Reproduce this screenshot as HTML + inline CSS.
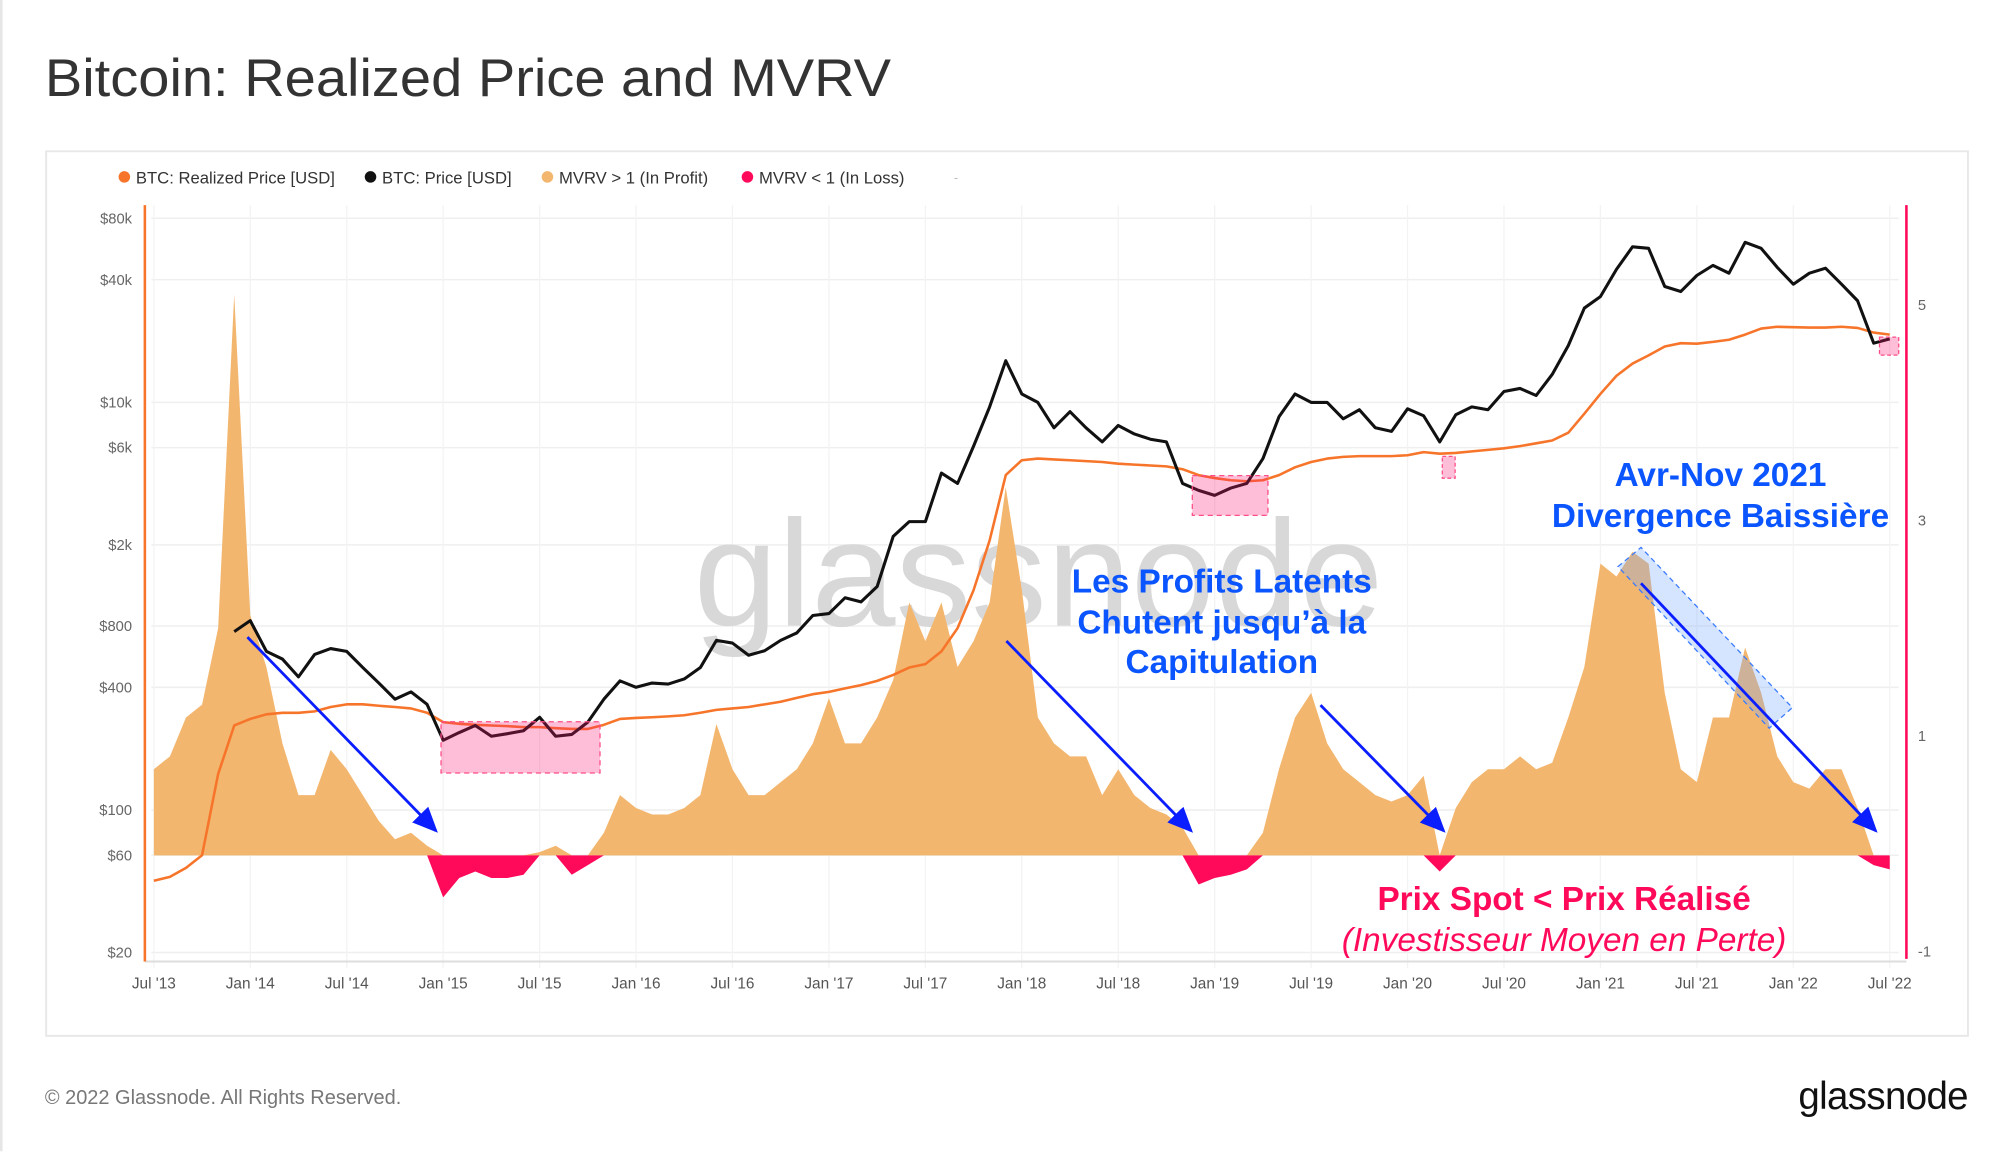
<!DOCTYPE html>
<html><head><meta charset="utf-8">
<style>
html,body{margin:0;padding:0;background:#fff;}
svg{display:block;font-family:"Liberation Sans",sans-serif;}
</style></head>
<body>
<svg id="chart" width="2000" height="1152" viewBox="0 0 1560 898.6" preserveAspectRatio="none" xmlns="http://www.w3.org/2000/svg">
<rect x="0" y="0" width="1560" height="898.6" fill="#fff"/>
<line x1="1" y1="0" x2="1" y2="898" stroke="#e6e6e6" stroke-width="2"/>
<text x="35" y="75" font-size="41" fill="#333" textLength="660" lengthAdjust="spacingAndGlyphs">Bitcoin: Realized Price and MVRV</text>
<rect x="36" y="118" width="1499" height="690" fill="none" stroke="#e8e8e8" stroke-width="1.5"/>
<g id="legend" font-size="13" fill="#333">
 <g><circle cx="97" cy="138" r="4.5" fill="#f7752a"/><text x="106" y="143">BTC: Realized Price [USD]</text></g>
 <g><circle cx="289" cy="138" r="4.5" fill="#111"/><text x="298" y="143">BTC: Price [USD]</text></g>
 <g><circle cx="427" cy="138" r="4.5" fill="#f3b66e"/><text x="436" y="143">MVRV &gt; 1 (In Profit)</text></g>
 <g><circle cx="583" cy="138" r="4.5" fill="#ff0a5a"/><text x="592" y="143">MVRV &lt; 1 (In Loss)</text></g>
 <text x="744" y="142" fill="#bbb" font-size="10">-</text>
</g>
<g id="grid"></g>
<text x="810" y="488" font-size="118" fill="#d8d8d8" text-anchor="middle">glassnode</text>
<g id="marks"></g>
<g id="axes"></g>
<g id="annot">
 <rect x="344" y="563" width="124" height="40" fill="rgba(255,20,110,0.28)" stroke="#ff4d88" stroke-dasharray="4,3"/>
 <rect x="930" y="371" width="59" height="31" fill="rgba(255,20,110,0.28)" stroke="#ff4d88" stroke-dasharray="4,3"/>
 <rect x="1125" y="356" width="10" height="17" fill="rgba(255,20,110,0.28)" stroke="#ff4d88" stroke-dasharray="3,2"/>
 <rect x="1466" y="263" width="15" height="14" fill="rgba(255,20,110,0.28)" stroke="#ff4d88" stroke-dasharray="3,2"/>
 <polygon points="1262,442 1280,427 1398,552 1380,568" fill="rgba(120,170,255,0.3)" stroke="#3a7bff" stroke-dasharray="4,3"/>
 <defs><marker id="ah" markerWidth="10" markerHeight="8" refX="8" refY="4" orient="auto" markerUnits="strokeWidth"><path d="M0,0 L9,4 L0,8 z" fill="#0a1eff"/></marker></defs>
 <line x1="193" y1="497" x2="340" y2="648" stroke="#0a1eff" stroke-width="2.2" marker-end="url(#ah)"/>
 <line x1="785" y1="500" x2="929" y2="648" stroke="#0a1eff" stroke-width="2.2" marker-end="url(#ah)"/>
 <line x1="1030" y1="550" x2="1126" y2="648" stroke="#0a1eff" stroke-width="2.2" marker-end="url(#ah)"/>
 <line x1="1280" y1="455" x2="1463" y2="648" stroke="#0a1eff" stroke-width="2.2" marker-end="url(#ah)"/>
 <g font-weight="bold" font-size="26" fill="#0a55ff" text-anchor="middle">
  <text x="953" y="462">Les Profits Latents</text>
  <text x="953" y="494">Chutent jusqu’à la</text>
  <text x="953" y="525">Capitulation</text>
 </g>
 <g font-weight="bold" font-size="26" fill="#0a55ff" text-anchor="middle">
  <text x="1342" y="379">Avr-Nov 2021</text>
  <text x="1342" y="411">Divergence Baissière</text>
 </g>
 <text x="1220" y="710" font-weight="bold" font-size="26" fill="#ff0a5a" text-anchor="middle">Prix Spot &lt; Prix Réalisé</text>
 <text x="1220" y="742" font-style="italic" font-size="26" fill="#ff0a5a" text-anchor="middle">(Investisseur Moyen en Perte)</text>
</g>
<text x="35" y="861" font-size="16" fill="#777" textLength="278" lengthAdjust="spacingAndGlyphs">© 2022 Glassnode. All Rights Reserved.</text>
<text x="1535" y="865" font-size="30" fill="#111" text-anchor="end" letter-spacing="-0.5">glassnode</text>
</svg>
<script>
const xTickLabels = ["Jul '13","Jan '14","Jul '14","Jan '15","Jul '15","Jan '16","Jul '16","Jan '17","Jul '17","Jan '18","Jul '18","Jan '19","Jul '19","Jan '20","Jul '20","Jan '21","Jul '21","Jan '22","Jul '22"];
const leftTickValues = [80000,40000,10000,6000,2000,800,400,100,60,20];
const leftTickLabels = ["$80k","$40k","$10k","$6k","$2k","$800","$400","$100","$60","$20"];
const rightTickValues = [5,3,1,-1];
const rightTickLabels = ["5","3","1","-1"];
const mvrvBaseline = -0.11;
// monthly, Jul 2013 .. Jul 2022
const mvrvValues = [0.69,0.81,1.17,1.29,2.0,5.1,
 2.12,1.64,0.93,0.45,0.45,0.87,0.69,0.45,0.21,0.04,0.1,-0.02,
 -0.5,-0.32,-0.26,-0.32,-0.32,-0.29,-0.08,-0.02,-0.29,-0.2,0.1,0.45,
 0.33,0.27,0.27,0.33,0.45,1.11,0.69,0.45,0.45,0.57,0.69,0.93,
 1.35,0.93,0.93,1.17,1.52,2.24,1.88,2.24,1.64,1.88,2.24,3.31,
 2.36,1.17,0.93,0.81,0.81,0.45,0.69,0.45,0.33,0.27,0.15,-0.38,
 -0.32,-0.29,-0.24,0.1,0.69,1.17,1.4,0.93,0.69,0.57,0.45,0.39,
 0.45,0.63,-0.26,0.33,0.57,0.69,0.69,0.81,0.69,0.75,1.17,1.64,
 2.6,2.48,2.71,2.6,1.4,0.69,0.57,1.17,1.17,1.82,1.4,0.81,
 0.57,0.51,0.69,0.69,0.33,-0.2,-0.24];
const priceValues = [null,null,null,null,null,750,
 850,600,550,450,580,620,600,500,420,350,380,330,
 220,240,260,230,237,245,285,230,235,270,350,430,
 400,420,415,440,500,680,660,575,605,680,740,900,
 920,1100,1050,1250,2200,2600,2600,4500,4000,6100,9500,16000,
 11000,10000,7500,9000,7500,6400,7700,7000,6600,6400,4000,3700,
 3500,3800,4000,5300,8500,11000,10000,10000,8300,9200,7500,7200,
 9300,8600,6400,8700,9500,9200,11300,11700,10800,13700,19000,29000,
 33000,45000,58000,57000,37000,35000,42000,47000,43000,61000,57000,46000,
 38000,43000,45500,38000,31500,19500,20500];
const realizedValues = [45,47,52,60,150,260,
 280,295,300,300,305,320,330,330,325,320,315,300,
 270,265,262,260,258,255,255,252,250,250,262,280,
 283,285,288,292,300,310,315,320,330,340,355,370,
 380,395,410,430,460,500,520,600,780,1200,2100,4400,
 5200,5300,5250,5200,5150,5100,5000,4950,4900,4850,4700,4400,
 4250,4150,4100,4150,4400,4800,5100,5300,5400,5450,5450,5450,
 5500,5700,5600,5650,5750,5850,5950,6100,6300,6500,7100,8800,
 11000,13500,15500,17000,18800,19500,19400,19800,20300,21500,23000,23500,
 23400,23300,23300,23500,23200,22000,21500];

const NS="http://www.w3.org/2000/svg";
const X0=120, X1=1474, N=mvrvValues.length;
function xOf(i){return X0+i*(X1-X0)/(N-1);}
function xTick(k){return X0+k*(X1-X0)/(xTickLabels.length-1);}
function yPrice(v){return 743-(Math.log10(v)-Math.log10(20))*159;}
function yM(v){return 574-(v-1)*84;}
function mk(tag,attrs,parent){const e=document.createElementNS(NS,tag);for(const k in attrs)e.setAttribute(k,attrs[k]);parent.appendChild(e);return e;}
const grid=document.getElementById('grid'), marks=document.getElementById('marks'), axes=document.getElementById('axes');

leftTickValues.forEach((v,i)=>{
 const y=yPrice(v);
 const l=mk('line',{x1:118,x2:1481,y1:y,y2:y,stroke:'#efefef','stroke-width':1.2},grid);
 
 
 const t=mk('text',{x:103,y:y+4,'font-size':11.5,fill:'#666','text-anchor':'end'},axes);
 t.textContent=leftTickLabels[i];
 
 
});
rightTickValues.forEach((v,i)=>{
 const y=yM(v);
 const t=mk('text',{x:1496,y:y+4,'font-size':11.5,fill:'#666'},axes);
 t.textContent=rightTickLabels[i];
 
 
});
xTickLabels.forEach((s,k)=>{
 const x=xTick(k);
 const l=mk('line',{x1:x,x2:x,y1:160,y2:755,stroke:'#f3f3f3','stroke-width':1},grid);
 
 
 const t=mk('text',{x:x,y:771,'font-size':12,fill:'#555','text-anchor':'middle'},axes);
 t.textContent=s;
 
 
});
let a=mk('line',{x1:113,x2:1487,y1:750,y2:750,stroke:'#ddd','stroke-width':1.5},axes);


a=mk('line',{x1:113,x2:113,y1:160,y2:750,stroke:'#f7752a','stroke-width':2},axes);


a=mk('line',{x1:1487,x2:1487,y1:160,y2:748,stroke:'#ff0a5a','stroke-width':2},axes);



const yb=yM(mvrvBaseline);
let pPos=`${xOf(0)},${yb} `, pNeg=`${xOf(0)},${yb} `;
mvrvValues.forEach((v,i)=>{
 pPos+=`${xOf(i)},${yM(Math.max(v,mvrvBaseline))} `;
 pNeg+=`${xOf(i)},${yM(Math.min(v,mvrvBaseline))} `;
});
pPos+=`${xOf(N-1)},${yb}`; pNeg+=`${xOf(N-1)},${yb}`;
const ap=mk('polygon',{points:pPos,fill:'#f3b66e'},marks);


const an=mk('polygon',{points:pNeg,fill:'#ff0a5a'},marks);



function linePath(arr,yf){let d='';let started=false;arr.forEach((v,i)=>{if(v==null)return;d+=(started?'L':'M')+xOf(i).toFixed(1)+','+yf(v).toFixed(1);started=true;});return d;}
const rl=mk('path',{d:linePath(realizedValues,yPrice),fill:'none',stroke:'#f7752a','stroke-width':2,'stroke-linejoin':'round'},marks);


const pl=mk('path',{d:linePath(priceValues,yPrice),fill:'none',stroke:'#111','stroke-width':2.4,'stroke-linejoin':'round'},marks);


</script>
</body></html>
